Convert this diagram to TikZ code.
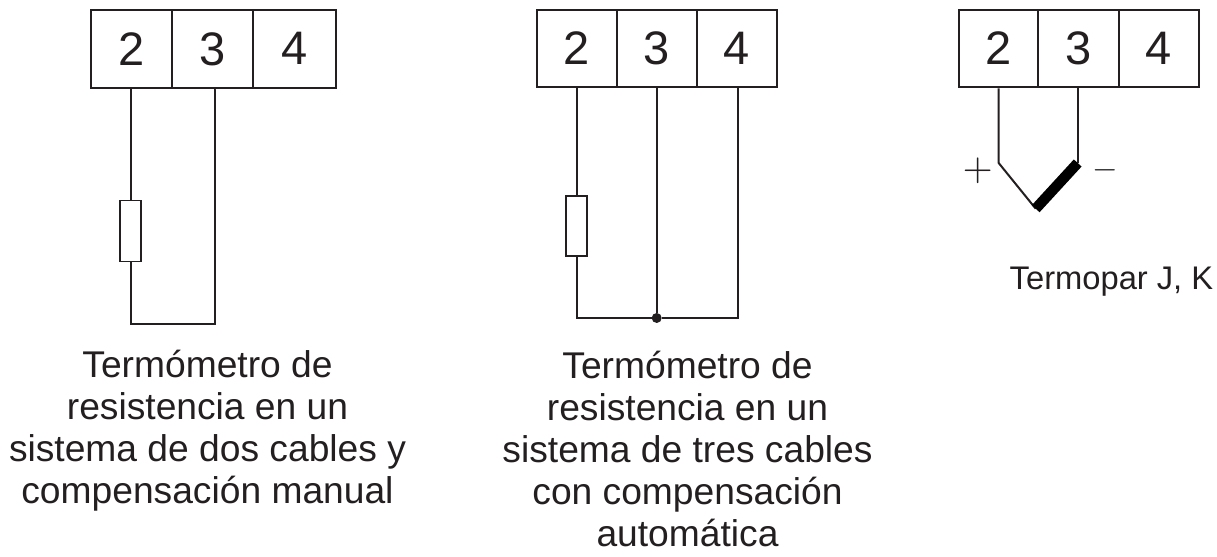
\documentclass[tikz,border=0pt]{standalone}
\usepackage{fontspec}
\setmainfont{Liberation Sans}
\definecolor{ink}{HTML}{231F20}
\newcommand{\cellnum}[1]{\raisebox{1.7bp}{#1}}
\tikzset{
  cell/.style={draw=ink,line width=2bp,minimum height=78bp,inner sep=0pt,text=ink,font=\fontsize{47bp}{47bp}\selectfont},
  resistor/.style={draw=ink,line width=1.8bp,fill=white,minimum width=20.5bp,minimum height=61bp,inner sep=0pt},
  wire/.style={draw=ink,line width=2bp},
  caption/.style={text=ink,align=center,inner sep=0pt,font=\fontsize{37.2bp}{42bp}\selectfont},
  small/.style={text=ink,inner sep=0pt,font=\fontsize{32.7bp}{34bp}\selectfont},
  sign/.style={text=ink,inner sep=0pt}
}
\begin{document}
\begin{tikzpicture}[x=1bp,y=-1bp]
\useasboundingbox (0,0) rectangle (1217,557);
% left
\node[cell,minimum width=81.3bp] (a2) at (131.3,49.5) {\cellnum{2}};
\node[cell,minimum width=81.3bp] (a3) at (212.6,49.5) {\cellnum{3}};
\node[cell,minimum width=82.4bp] (a4) at (294.5,49.5) {\cellnum{4}};
\node[resistor] (ra) at (130.5,231) {};
\coordinate (ab) at (214.7,324);
\draw[wire] (a2.south -| ra) -- (ra.north);
\draw[wire,line cap=round] (ab |- a3.south) -- (ab) -- (ab -| ra) -- (ra.south);
\node[caption] (ca) at (207.5,431) {Termómetro de\\resistencia en un\\sistema de dos cables y\\compensación manual};
% middle
\node[cell,minimum width=79.4bp,minimum height=77.5bp] (b2) at (577,48.7) {\cellnum{2}};
\node[cell,minimum width=80bp,minimum height=77.5bp] (b3) at (656.7,48.7) {\cellnum{3}};
\node[cell,minimum width=80.6bp,minimum height=77.5bp] (b4) at (737,48.7) {\cellnum{4}};
\node[resistor,minimum height=60bp] (rb) at (576.5,226) {};
\coordinate (bb) at (737.7,318);
\node[circle,fill=ink,inner sep=0pt,minimum size=10bp] (dot) at (656.7,318) {};
\draw[wire] (b2.south -| rb) -- (rb.north);
\draw[wire] (rb.south) -- (rb.south |- dot) -- (dot);
\draw[wire] (b3.south) -- (dot);
\draw[wire] (dot) -- (bb) -- (bb |- b4.south);
\node[caption] (cb) at (687.5,449) {Termómetro de\\resistencia en un\\sistema de tres cables\\con compensación\\automática};
% right
\node[cell,minimum width=79.3bp,minimum height=77.5bp] (c2) at (998.3,48.7) {\cellnum{2}};
\node[cell,minimum width=81bp,minimum height=77.5bp] (c3) at (1078.5,48.7) {\cellnum{3}};
\node[cell,minimum width=80bp,minimum height=77.5bp] (c4) at (1159,48.7) {\cellnum{4}};
\coordinate (tl) at (998.7,163);
\coordinate (tb) at (1035.7,208.7);
\coordinate (tr) at (1077.7,163);
\draw[wire,line join=miter] (c2.south -| tl) -- (tl) -- (tb);
\draw[wire] (c3.south -| tr) -- (tr);
\draw[draw=black,line width=10.5bp] (tb) -- (tr);
\node[sign] (plus) at (977.7,171) {\scalebox{3.9}{$+$}};
\node[sign] (minus) at (1105.5,170) {\scalebox{3.3}{$-$}};
\node[small] (cc) at (1111.5,282) {Termopar J, K};
\end{tikzpicture}
\end{document}
